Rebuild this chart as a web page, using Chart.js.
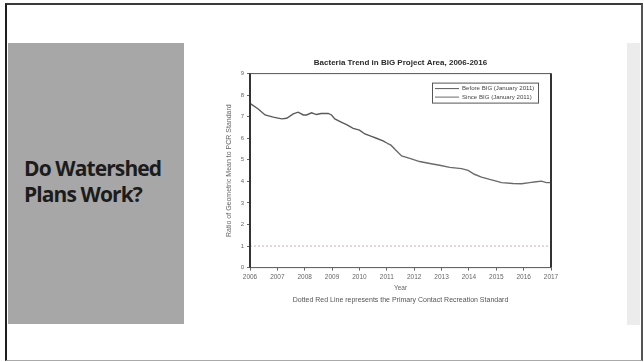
<!DOCTYPE html>
<html lang="en">
<head>
  <meta charset="UTF-8">
  <title>Do Watershed Plans Work?</title>
  <script src="https://cdn.jsdelivr.net/npm/chart.js"></script>
  <style>
    html, body {
      margin: 0;
      padding: 0;
      background: #fff;
      width: 644px;
      height: 362px;
      overflow: hidden;
    }
    .slide {
      position: absolute;
      left: 5px;
      top: 3px;
      width: 634px;
      height: 355px;
      border-left: 2px solid #1e1e1e;
      border-top: 2px solid #3a3a3a;
      border-right: 2px solid #555;
      border-bottom: 1px solid #aaa;
    }
    .side-panel {
      position: absolute;
      left: 8px;
      top: 43px;
      width: 176px;
      height: 281px;
      background: #a7a7a7;
    }
    h1 {
      position: absolute;
      left: 24px;
      top: 155px;
      margin: 0;
      font-family: "Open Sans", sans-serif;
      font-weight: 700;
      font-size: 21px;
      line-height: 26px;
      letter-spacing: -0.9px;
      color: #1c1c1c;
    }
    .strip {
      position: absolute;
      left: 627px;
      top: 43px;
      width: 13px;
      height: 282px;
      background: #ececec;
    }
    .chart-box {
      position: absolute;
      left: 215px;
      top: 55px;
      width: 371px;
      height: 255px;
    }
  </style>
</head>
<body>
  <div class="slide"></div>
  <div class="side-panel"></div>
  <h1>Do Watershed<br>Plans Work?</h1>
  <div class="strip"></div>
  <div class="chart-box">
    <canvas id="trendChart" width="371" height="255"></canvas>
  </div>
  <script>
    // rolling ratio before the BIG project started (Jan 2011)
    const beforeYears = [2006.0, 2006.3, 2006.55, 2006.85, 2007.16, 2007.34, 2007.58, 2007.76, 2007.95, 2008.07,
      2008.25, 2008.43, 2008.6, 2008.86, 2008.98, 2009.1, 2009.35, 2009.53, 2009.77, 2010.0,
      2010.2, 2010.44, 2010.62, 2010.86, 2011.0];
    const beforeRatio = [7.62, 7.36, 7.08, 6.98, 6.9, 6.93, 7.13, 7.21, 7.08, 7.08,
      7.18, 7.1, 7.15, 7.15, 7.08, 6.9, 6.74, 6.63, 6.46, 6.38,
      6.2, 6.09, 6.0, 5.88, 5.78];

    // and since
    const sinceYears = [2011.0, 2011.15, 2011.35, 2011.54, 2011.84, 2012.2, 2012.57, 2012.93, 2013.3, 2013.73,
      2013.97, 2014.2, 2014.46, 2014.76, 2015.0, 2015.19, 2015.61, 2015.92, 2016.22, 2016.46,
      2016.65, 2016.83, 2017.0];
    const sinceRatio = [5.78, 5.68, 5.42, 5.18, 5.07, 4.92, 4.83, 4.75, 4.65, 4.59,
      4.51, 4.33, 4.2, 4.09, 4.01, 3.94, 3.9, 3.89, 3.94, 3.98,
      4.01, 3.94, 3.94];

    const seriesLabels = ['Before BIG (January 2011)', 'Since BIG (January 2011)'];
    const yearRange = [2006, 2017];
    const ratioRange = [0, 9];
    const pcrStandard = 1;

    const toPoints = (xs, ys) => xs.map((x, i) => ({ x: x, y: ys[i] }));

    // framed legend in the upper right of the plot
    const boxLegend = {
      id: 'boxLegend',
      afterDraw(chart) {
        const { ctx, chartArea } = chart;
        const w = 106, h = 20;
        const x = chartArea.right - 13 - w;
        const y = chartArea.top + 9;
        ctx.save();
        ctx.strokeStyle = '#555';
        ctx.lineWidth = 1;
        ctx.strokeRect(x + 0.5, y + 0.5, w, h);
        ctx.font = '6.1px Arial';
        ctx.textBaseline = 'middle';
        ctx.fillStyle = '#444';
        chart.data.datasets.slice(0, 2).forEach((ds, i) => {
          const ry = y + 6 + i * 8.5;
          ctx.strokeStyle = ds.borderColor;
          ctx.lineWidth = 1;
          ctx.beginPath();
          ctx.moveTo(x + 3, ry);
          ctx.lineTo(x + 27, ry);
          ctx.stroke();
          ctx.fillText(ds.label, x + 30, ry);
        });
        ctx.restore();
      }
    };

    // box around the plot area
    const plotFrame = {
      id: 'plotFrame',
      afterDatasetsDraw(chart) {
        const { ctx, chartArea: a } = chart;
        ctx.save();
        ctx.strokeStyle = '#555';
        ctx.lineWidth = 1;
        ctx.strokeRect(a.left, a.top, a.right - a.left, a.bottom - a.top);
        ctx.strokeStyle = '#333';
        ctx.lineWidth = 2;
        ctx.beginPath();
        ctx.moveTo(a.left, a.top);
        ctx.lineTo(a.left, a.bottom);
        ctx.moveTo(a.right, a.top);
        ctx.lineTo(a.right, a.bottom);
        ctx.stroke();
        ctx.restore();
      }
    };

    new Chart(document.getElementById('trendChart').getContext('2d'), {
      type: 'line',
      data: {
        datasets: [
          {
            label: seriesLabels[0],
            data: toPoints(beforeYears, beforeRatio),
            borderColor: '#5a5a5a',
            borderWidth: 1.4,
            pointRadius: 0,
            tension: 0
          },
          {
            label: seriesLabels[1],
            data: toPoints(sinceYears, sinceRatio),
            borderColor: '#6a6a6a',
            borderWidth: 1.4,
            pointRadius: 0,
            tension: 0
          },
          {
            label: 'PCR Standard',
            data: toPoints(yearRange, [pcrStandard, pcrStandard]),
            borderColor: '#c4b4b4',
            borderWidth: 1,
            borderDash: [2, 2],
            pointRadius: 0
          }
        ]
      },
      options: {
        responsive: false,
        animation: false,
        layout: { padding: { top: 3, right: 0, bottom: 3, left: 0 } },
        plugins: {
          legend: { display: false },
          tooltip: { enabled: false },
          title: {
            display: true,
            text: 'Bacteria Trend in BIG Project Area, 2006-2016',
            color: '#2a2a2a',
            font: { family: 'Arial', size: 8, weight: 'bold' },
            padding: { top: 0, bottom: 6 }
          },
          subtitle: {
            display: true,
            position: 'bottom',
            text: 'Dotted Red Line represents the Primary Contact Recreation Standard',
            color: '#555',
            font: { family: 'Arial', size: 7 },
            padding: { top: 3, bottom: 3 }
          }
        },
        scales: {
          x: {
            type: 'linear',
            min: yearRange[0],
            max: yearRange[1],
            afterFit: s => { s.height = 25; },
            grid: { drawOnChartArea: false, drawTicks: true, tickLength: 3, color: '#666' },
            border: { display: false },
            ticks: {
              stepSize: 1,
              padding: 3,
              color: '#666',
              font: { family: 'Arial', size: 6.5 },
              callback: v => String(v)
            },
            title: {
              display: true,
              text: 'Year',
              color: '#666',
              font: { family: 'Arial', size: 6.5 },
              padding: { top: 0, bottom: 0 }
            }
          },
          y: {
            min: ratioRange[0],
            max: ratioRange[1],
            afterFit: s => { s.width = 35; },
            grid: { drawOnChartArea: false, drawTicks: true, tickLength: 3, color: '#666' },
            border: { display: false },
            ticks: {
              stepSize: 1,
              padding: 3,
              color: '#666',
              font: { family: 'Arial', size: 6 }
            },
            title: {
              display: true,
              text: 'Ratio of Geometric Mean to PCR Standard',
              color: '#666',
              font: { family: 'Arial', size: 7 },
              padding: { top: 10, bottom: 0 }
            }
          },
          // blank right-hand axis, same width as the left one, keeps the titles centred on the plot
          yRight: {
            position: 'right',
            min: ratioRange[0],
            max: ratioRange[1],
            afterFit: s => { s.width = 35; },
            grid: { display: false },
            border: { display: false },
            ticks: { display: false }
          }
        }
      },
      plugins: [plotFrame, boxLegend]
    });
  </script>
</body>
</html>
